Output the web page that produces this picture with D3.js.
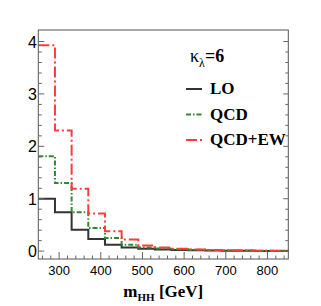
<!DOCTYPE html>
<html>
<head>
<meta charset="utf-8">
<script src="https://cdn.jsdelivr.net/npm/d3@7"></script>
<style>
body { margin: 0; background: #fff; }
svg { display: block; }
</style>
</head>
<body>
<svg id="chart" width="321" height="306"></svg>
<script>
// bin edges in GeV (40 GeV bins)
var binEdges = [250, 290, 330, 370, 410, 450, 490, 530, 570, 610, 650, 690, 730, 770, 810, 850];
var loValues  = [1.00, 0.74, 0.41, 0.23, 0.12, 0.07, 0.045, 0.03, 0.02, 0.015, 0.01, 0.008, 0.006, 0.005, 0.004];
var qcdValues = [1.81, 1.30, 0.74, 0.44, 0.25, 0.12, 0.07, 0.05, 0.035, 0.025, 0.018, 0.013, 0.01, 0.008, 0.006];
var ewValues  = [3.93, 2.30, 1.19, 0.72, 0.38, 0.22, 0.11, 0.07, 0.045, 0.03, 0.022, 0.016, 0.012, 0.009, 0.007];
var xTicks = [300, 400, 500, 600, 700, 800];
var yTicks = [0, 1, 2, 3, 4];
var seriesNames = ["LO", "QCD", "QCD+EW"];

var svg = d3.select("#chart");

var x = d3.scaleLinear().domain([250, 850]).range([38.3, 288.3]);
var y = d3.scaleLinear().domain([-0.15, 4.22]).range([259, 30]);

var styles = [
    {color: "#333333", dash: null},
    {color: "#2f8a2f", dash: "5,2,1.5,2"},
    {color: "#ff3b3b", dash: "11,3,2,3"}
];

// histograms as step lines
function stepPoints(values)
{
    var pts = [];
    values.forEach(function(v, i) {
        pts.push([binEdges[i], v]);
        pts.push([binEdges[i + 1], v]);
    });
    return pts;
}

var line = d3.line()
    .x(function(d) { return x(d[0]); })
    .y(function(d) { return y(d[1]); });

[loValues, qcdValues, ewValues].forEach(function(vals, i) {
    svg.append("path")
        .attr("d", line(stepPoints(vals)))
        .attr("fill", "none")
        .attr("stroke", styles[i].color)
        .attr("stroke-width", 2)
        .attr("stroke-dasharray", styles[i].dash);
});

// frame
svg.append("rect")
    .attr("x", x(250)).attr("y", y(4.22))
    .attr("width", x(850) - x(250)).attr("height", y(-0.15) - y(4.22))
    .attr("fill", "none").attr("stroke", "#555").attr("stroke-width", 1);

// x axis ticks (inside)
var xMinor = d3.range(260, 850, 20);
svg.append("g").selectAll("line").data(xMinor).enter().append("line")
    .attr("x1", function(d) { return x(d); }).attr("x2", function(d) { return x(d); })
    .attr("y1", y(-0.15))
    .attr("y2", function(d) { return y(-0.15) - (d % 100 === 0 ? 7 : 3.5); })
    .attr("stroke", "#666").attr("stroke-width", 1);

svg.append("g").selectAll("text").data(xTicks).enter().append("text")
    .attr("x", function(d) { return x(d); })
    .attr("y", 275)
    .attr("text-anchor", "middle")
    .style("font-family", "Liberation Sans, Arial, sans-serif")
    .style("font-size", "13px")
    .text(function(d) { return d; });

// y axis ticks, left and right
var yMinor = d3.range(0, 21).map(function(i) { return i * 0.2; });
svg.append("g").selectAll("line").data(yMinor).enter().append("line")
    .attr("x1", x(250))
    .attr("x2", function(d, i) { return x(250) + (i % 5 === 0 ? 6 : 3.5); })
    .attr("y1", function(d) { return y(d); }).attr("y2", function(d) { return y(d); })
    .attr("stroke", "#666").attr("stroke-width", 1);
svg.append("g").selectAll("line").data(yMinor).enter().append("line")
    .attr("x1", x(850))
    .attr("x2", function(d, i) { return x(850) - (i % 5 === 0 ? 5 : 3); })
    .attr("y1", function(d) { return y(d); }).attr("y2", function(d) { return y(d); })
    .attr("stroke", "#666").attr("stroke-width", 1);

svg.append("g").selectAll("text").data(yTicks).enter().append("text")
    .attr("x", 37)
    .attr("y", function(d) { return y(d) + 6; })
    .attr("text-anchor", "end")
    .style("font-family", "Liberation Sans, Arial, sans-serif")
    .style("font-size", "16px")
    .text(function(d) { return d; });

// x title
var xt = svg.append("text")
    .attr("x", (x(250) + x(850)) / 2)
    .attr("y", 297)
    .attr("text-anchor", "middle")
    .style("font-family", "Liberation Serif, Times New Roman, serif")
    .style("font-weight", "bold")
    .style("font-size", "17px");
xt.append("tspan").text("m");
xt.append("tspan").attr("dy", 4).style("font-size", "11px").text("HH");
xt.append("tspan").attr("dy", -4).text(" [GeV]");

// legend
var kt = svg.append("text")
    .attr("x", 190).attr("y", 62)
    .style("font-family", "Liberation Serif, Times New Roman, serif")
    .style("font-size", "18px");
kt.append("tspan").text("\u03ba");
kt.append("tspan").attr("dy", 5).style("font-size", "12px").text("\u03bb");
kt.append("tspan").attr("dy", -5).style("font-weight", "bold").text("=6");

var legend = svg.append("g").selectAll("g").data(seriesNames).enter().append("g")
    .attr("transform", function(d, i) { return "translate(0," + (94 + i * 25.5) + ")"; });

legend.append("line")
    .attr("x1", 186).attr("x2", 202)
    .attr("y1", -5).attr("y2", -5)
    .attr("stroke", function(d, i) { return styles[i].color; })
    .attr("stroke-width", 2)
    .attr("stroke-dasharray", function(d, i) { return styles[i].dash; });

legend.append("text")
    .attr("x", 210).attr("y", 0)
    .style("font-family", "Liberation Serif, Times New Roman, serif")
    .style("font-weight", "bold")
    .style("font-size", "17px")
    .text(function(d) { return d; });
</script>
</body>
</html>
